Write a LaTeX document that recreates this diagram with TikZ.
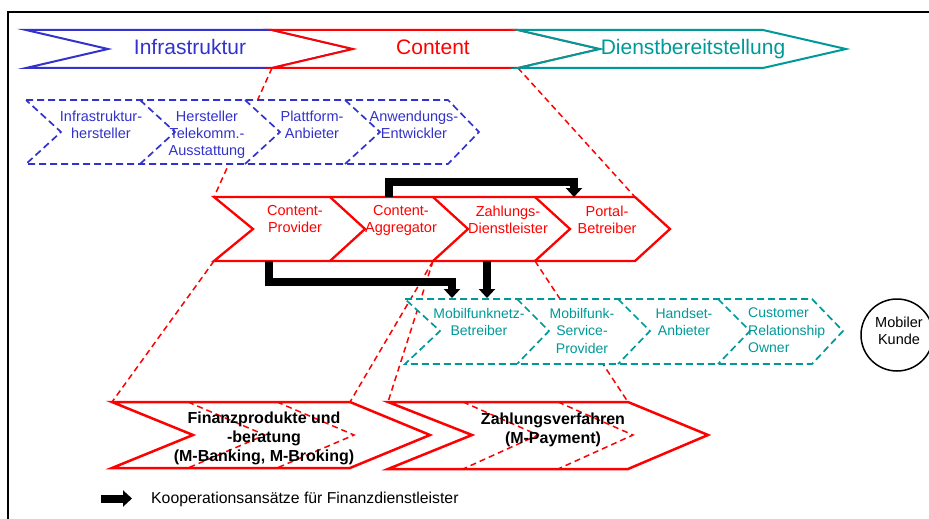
\documentclass[tikz,border=0pt]{standalone}
\usepackage{fontspec}
\setmainfont{Liberation Sans}
\usetikzlibrary{arrows.meta}
\definecolor{infblue}{RGB}{51,51,204}
\definecolor{contred}{RGB}{255,0,0}
\definecolor{dienstteal}{RGB}{0,153,153}

\begin{document}
\begin{tikzpicture}[x=1pt,y=-1pt]
    %
    % `stage' is the solid outline of a chain step.
    % `substage' is the dashed outline of a detailed chain.
    % `zoomline' is the red dashed line down to a detailed chain.
    % `koop' is the thick black arrow.
    \tikzstyle{stage} = [line width=2pt,fill=white]
    \tikzstyle{substage} = [line width=1.7pt,fill=white,dash pattern=on 7pt off 4pt]
    \tikzstyle{zoomline} = [draw=contred,line width=1.5pt,dash pattern=on 6pt off 4pt]
    \tikzstyle{koop} = [line width=8pt,-{Triangle[width=16pt,length=9pt]}]
    \tikzstyle{headtext} = [inner sep=0pt,anchor=base,font=\fontsize{21}{25}\selectfont]
    \tikzstyle{steptext} = [inner sep=0pt,align=center,anchor=north,font=\fontsize{14.5}{17}\selectfont]
    \tikzstyle{boldtext} = [inner sep=0pt,align=center,anchor=north,font=\fontsize{16}{19}\selectfont\bfseries]
    \useasboundingbox (0,0) rectangle (929,519);
    %
    % Frame
    \draw[line width=2pt] (8,519) -- (8,12.5) -- (929,12.5);
    %
    % Corners
    \coordinate (content-bl) at (272,68);
    \coordinate (content-br) at (518,68);
    \coordinate (crow-tl) at (214,197);
    \coordinate (crow-tr) at (635,197);
    \coordinate (crow-bl) at (214,261);
    \coordinate (crow-b3) at (433,261);
    \coordinate (crow-b4) at (535,261);
    \coordinate (finanz-tl) at (112,402);
    \coordinate (finanz-tr) at (350,402);
    \coordinate (zahlung-tl) at (388,402);
    \coordinate (zahlung-tr) at (628,402);
    %
    % Zoom lines
    \draw[zoomline] (content-bl) -- (crow-tl);
    \draw[zoomline] (content-br) -- (crow-tr);
    \draw[zoomline] (crow-bl) -- (finanz-tl);
    \draw[zoomline] (crow-b3) -- (finanz-tr);
    \draw[zoomline] (crow-b3) -- (zahlung-tl);
    \draw[zoomline] (crow-b4) -- (zahlung-tr);
    %
    % Top row
    \draw[stage,draw=infblue] (26,30) -- (272,30) -- (353,49) -- (272,68) -- (26,68) -- (108,49) -- cycle;
    \draw[stage,draw=contred] (272,30) -- (518,30) -- (600,49) -- (518,68) -- (272,68) -- (353,49) -- cycle;
    \draw[stage,draw=dienstteal] (518,30) -- (763,30) -- (846,49) -- (763,68) -- (518,68) -- (600,49) -- cycle;
    \node[headtext,text=infblue] (infra) at (190,55) {Infrastruktur};
    \node[headtext,text=contred] (content) at (433,55) {Content};
    \node[headtext,text=dienstteal] (dienst) at (693,55) {Dienstbereitstellung};
    %
    % Infrastructure chain
    \draw[substage,draw=infblue] (26,100) -- (448,100) -- (479,132) -- (448,164) -- (26,164) -- (61,132) -- cycle;
    \foreach \x in {140,245,345}
        \draw[substage,draw=infblue,fill=none] (\x,100) -- (\x+35,132) -- (\x,164);
    \node[steptext,text=infblue] (inhersteller) at (101,111) {Infrastruktur-\\hersteller};
    \node[steptext,text=infblue] (tkhersteller) at (207,111) {Hersteller\\Telekomm.-\\Ausstattung};
    \node[steptext,text=infblue] (plattform) at (312,111) {Plattform-\\Anbieter};
    \node[steptext,text=infblue] (anwendung) at (414,111) {Anwendungs-\\Entwickler};
    %
    % Content chain
    \draw[stage,draw=contred,line width=2.3pt] (214,197) -- (635,197) -- (670,229) -- (635,261) -- (214,261) -- (253,229) -- cycle;
    \foreach \x in {330,433,535}
        \draw[stage,draw=contred,line width=2.3pt,fill=none] (\x,197) -- (\x+35,229) -- (\x,261);
    \node[steptext,text=contred] (cprovider) at (295,205.5) {Content-\\Provider};
    \node[steptext,text=contred] (caggregator) at (401,205.5) {Content-\\Aggregator};
    \node[steptext,text=contred] (zdienst) at (508,205.5) {Zahlungs-\\Dienstleister};
    \node[steptext,text=contred] (portal) at (607,205.5) {Portal-\\Betreiber};
    %
    % Mobile chain
    \draw[substage,draw=dienstteal] (405,299) -- (812,299) -- (843,331) -- (812,364) -- (405,364) -- (440,331) -- cycle;
    \foreach \x in {517,618,718}
        \draw[substage,draw=dienstteal,fill=none] (\x,299) -- (\x+32,331) -- (\x,364);
    \node[steptext,text=dienstteal,font=\fontsize{14}{17.5}\selectfont] (netz) at (479,308) {Mobilfunknetz-\\Betreiber};
    \node[steptext,text=dienstteal,font=\fontsize{14}{17.5}\selectfont] (service) at (582,308) {Mobilfunk-\\Service-\\Provider};
    \node[steptext,text=dienstteal,font=\fontsize{14}{17.5}\selectfont] (handset) at (684,308) {Handset-\\Anbieter};
    \node[steptext,text=dienstteal,font=\fontsize{14}{17.5}\selectfont,align=left,anchor=north west] (crm) at (748,308) {Customer\\Relationship\\Owner};
    %
    % Customer
    \node[draw,circle,line width=1.5pt,minimum size=72pt,inner sep=0pt] (kunde) at (897,335) {};
    \node[steptext] (kundetext) at (899,316.5) {Mobiler\\Kunde};
    %
    % Financial services
    \draw[stage,draw=contred,line width=2.5pt] (112,402) -- (350,402) -- (430,435) -- (350,468) -- (112,468) -- (193,435) -- cycle;
    \foreach \x in {188,277}
        \draw[zoomline] (\x,402) -- (\x+77,435) -- (\x,468);
    \draw[stage,draw=contred,line width=2.5pt] (388,402) -- (628,402) -- (708,435) -- (628,469) -- (388,469) -- (472,435) -- cycle;
    \foreach \x in {463,558}
        \draw[zoomline] (\x,402) -- (\x+75,435) -- (\x,469);
    \node[boldtext] (finanz) at (264,411.5) {Finanzprodukte und\\-beratung\\(M-Banking, M-Broking)};
    \node[boldtext] (zahlung) at (553,412.5) {Zahlungsverfahren\\(M-Payment)};
    %
    % Cooperation arrows
    \coordinate (kp1-s) at (389,197);
    \coordinate (kp1-e) at (574,197);
    \coordinate (kp2-s) at (269,261);
    \coordinate (kp2-e) at (452,298);
    \coordinate (kp3-s) at (487,261);
    \coordinate (kp3-e) at (487,298);
    \draw[koop] (kp1-s) -- ++(0,-15) -| (kp1-e);
    \draw[koop] (kp2-s) -- ++(0,21) -| (kp2-e);
    \draw[koop] (kp3-s) -- (kp3-e);
    %
    % Legend
    \coordinate (leg-s) at (101,498.5);
    \coordinate (leg-e) at (132,498.5);
    \draw[koop] (leg-s) -- (leg-e);
    \node[inner sep=0pt,anchor=base west,font=\fontsize{15.8}{19}\selectfont] (legtext) at (151,503.5) {Kooperationsansätze für Finanzdienstleister};
\end{tikzpicture}
\end{document}
